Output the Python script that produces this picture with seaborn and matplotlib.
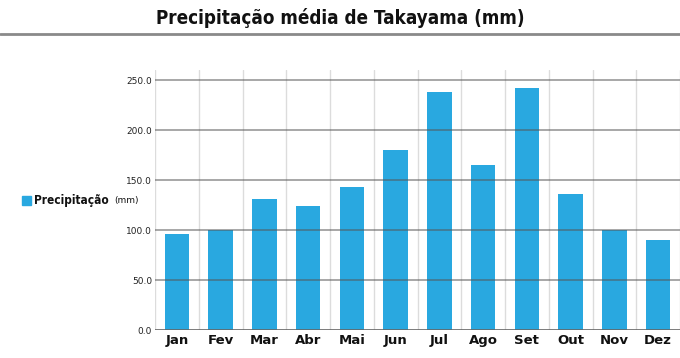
import matplotlib
matplotlib.use("Agg")
import matplotlib.pyplot as plt
import seaborn as sns
import pandas as pd

months = ["Jan", "Fev", "Mar", "Abr", "Mai", "Jun", "Jul", "Ago", "Set", "Out", "Nov", "Dez"]
precip = [96.0, 100.0, 130.7, 124.0, 142.7, 180.0, 238.3, 165.3, 242.0, 136.0, 100.0, 90.3]
yticks = [0, 50, 100, 150, 200, 250]
ytick_labels = ["0.0", "50.0", "100.0", "150.0", "200.0", "250.0"]

df = pd.DataFrame({"mes": months, "precip": precip})

sns.set_theme(style="white")
plt.rcParams["font.family"] = ["DejaVu Sans"]

fig = plt.figure(figsize=(6.8, 3.58), dpi=100)
ax = fig.add_axes([155 / 680, 1 - 330 / 358, 525 / 680, 260 / 358])

blue = "#29A8E0"
sns.barplot(data=df, x="mes", y="precip", color=blue, width=0.56, saturation=1,
            ax=ax, zorder=2, linewidth=0)

ax.set_ylim(0, 260)
ax.set_xlim(-0.5, len(months) - 0.5)

# vertical separators
for i in range(len(months) + 1):
    ax.axvline(i - 0.5, color="#dcdcdc", lw=1, zorder=1)
# horizontal grid on top of bars
for t in yticks[1:]:
    ax.axhline(t, color="#555555", alpha=0.65, lw=1.1, zorder=3)
ax.axhline(0, color="#666666", lw=1.2, zorder=3)

for s in ax.spines.values():
    s.set_visible(False)

ax.set_yticks(yticks)
ax.set_yticklabels(ytick_labels, fontsize=6.5, color="#222222")
ax.tick_params(axis="y", length=0, pad=2)
ax.tick_params(axis="x", length=0, pad=3)
ax.set_xticks(range(len(months)))
ax.set_xticklabels(months, fontsize=9.5, fontweight="bold", color="#111111")
ax.set_xlabel("")
ax.set_ylabel("")

# title and rule
fig.text(0.5, 1 - 18 / 358, "Precipitação média de Takayama (mm)", ha="center", va="center",
         fontsize=13.5, fontweight="bold", fontstretch="condensed", color="#111111",
         family=["DejaVu Sans"])
fig.add_artist(plt.Line2D([0, 1], [1 - 33.5 / 358, 1 - 33.5 / 358], color="#8a8a8a", lw=2,
                          transform=fig.transFigure))

# legend
fig.add_artist(plt.Rectangle((22 / 680, 1 - 205 / 358), 9 / 680, 9 / 358, color=blue,
                             transform=fig.transFigure))
t1 = fig.text(34 / 680, 1 - 200.5 / 358, "Precipitação", ha="left", va="center",
              fontsize=8.5, fontweight="bold", fontstretch="condensed", color="#111111")
fig.texts.append(None) if False else None
ann = ax.annotate("(mm)", xy=(1, 0.5), xycoords=t1, xytext=(4, 0), textcoords="offset points",
                  ha="left", va="center", fontsize=6.5, color="#111111",
                  annotation_clip=False)

fig.savefig("out.png", dpi=100)
